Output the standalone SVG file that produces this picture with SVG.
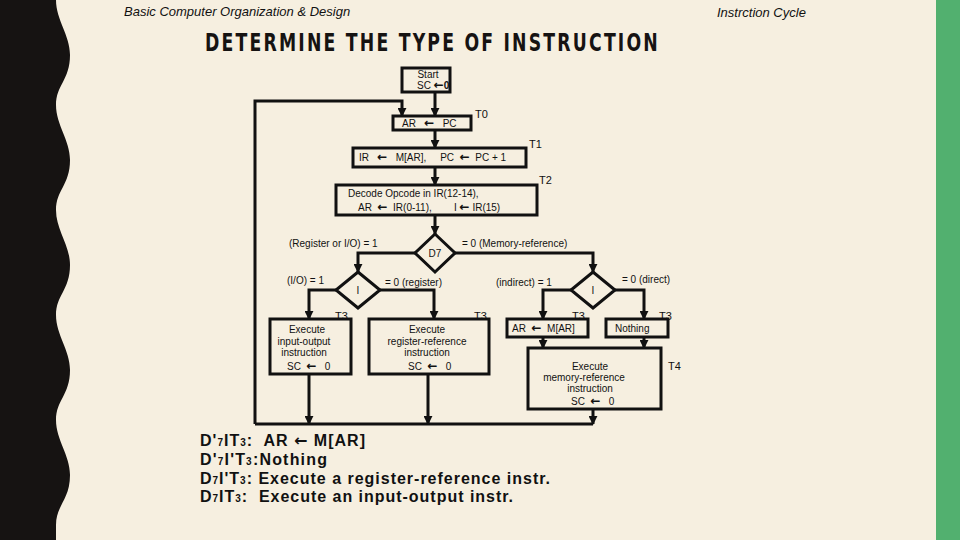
<svg xmlns="http://www.w3.org/2000/svg" width="960" height="540" viewBox="0 0 960 540" xml:space="preserve">
<style>
.b{fill:none;stroke:#111;stroke-width:3}
.c{fill:none;stroke:#111;stroke-width:3;marker-end:url(#ah)}
.t{font-family:"Liberation Sans",Arial,sans-serif;font-size:10px;fill:#111;white-space:pre}
.m{text-anchor:middle}
.a{font-family:"DejaVu Sans",sans-serif;font-weight:bold;font-size:12px}
.bt{font-family:"Liberation Sans",Arial,sans-serif;font-size:16px;font-weight:bold;fill:#111;white-space:pre}
.s{font-size:11px}
</style>
<defs>
<marker id="ah" viewBox="0 0 10 10" refX="9" refY="5" markerWidth="3" markerHeight="3" orient="auto" markerUnits="strokeWidth"><path d="M0,0L10,5L0,10z" fill="#111"/></marker>
</defs>
<rect width="960" height="540" fill="#f6efe0"/>
<path d="M0,0H56C56,20 70,35 70,55C70,80 56,85 56,105C56,125 70,140 70,160C70,185 56,190 56,210C56,230 70,245 70,265C70,290 56,295 56,315C56,335 70,350 70,370C70,395 56,400 56,420C56,440 70,455 70,475C70,500 56,505 56,525V540H0z" fill="#161312"/>
<rect x="936" y="0" width="24" height="540" fill="#52b06f"/>
<text x="124" y="16" font-family="Liberation Sans,Arial,sans-serif" font-size="13" font-style="italic" fill="#111">Basic Computer Organization &amp; Design</text>
<text x="717" y="17" font-family="Liberation Sans,Arial,sans-serif" font-size="13" font-style="italic" fill="#111">Instrction Cycle</text>
<text x="205" y="51" font-family="DejaVu Sans Condensed,DejaVu Sans,sans-serif" font-size="24" font-weight="bold" fill="#161312" textLength="566" lengthAdjust="spacing" transform="translate(205 0) scale(0.8 1) translate(-205 0)">DETERMINE THE TYPE OF INSTRUCTION</text>
<g id="connectors">
<path class="c" d="M435,92V116"/>
<path class="c" d="M255,424V101H402V116"/>
<path class="c" d="M435,130V148"/>
<path class="c" d="M435,167V185"/>
<path class="c" d="M435,215V234"/>
<path class="c" d="M415,253H358V272"/>
<path class="c" d="M455,253H593V272"/>
<path class="c" d="M336,290H309V319"/>
<path class="c" d="M380,290H434V319"/>
<path class="c" d="M571,290H543V319"/>
<path class="c" d="M615,290H644V319"/>
<path class="c" d="M543,337V348"/>
<path class="c" d="M644,337V348"/>
<path class="c" d="M309,374V424"/>
<path class="c" d="M428,374V424"/>
<path class="c" d="M593,409V424"/>
<path class="b" d="M255,424H593"/>
</g>
<g id="start"><rect class="b" x="402" y="68" width="48" height="24"/><text class="t m" x="428" y="78">Start</text><text class="t" x="417" y="89">SC <tspan class="a">←</tspan><tspan font-weight="bold">0</tspan></text></g>
<g id="t0"><rect class="b" x="393" y="116" width="78" height="14"/><text class="t" x="402" y="127">AR   <tspan class="a">←</tspan>   PC</text><text class="t s" x="475" y="118">T0</text></g>
<g id="t1"><rect class="b" x="353" y="148" width="173" height="19"/><text class="t" x="359" y="161">IR   <tspan class="a">←</tspan>   M[AR],     PC  <tspan class="a">←</tspan>  PC + 1</text><text class="t s" x="529" y="148">T1</text></g>
<g id="t2"><rect class="b" x="336" y="185" width="201" height="30"/><text class="t" x="348" y="197">Decode Opcode in IR(12-14),</text><text class="t" x="358" y="211">AR  <tspan class="a">←</tspan>  IR(0-11),        I <tspan class="a">←</tspan> IR(15)</text><text class="t s" x="539" y="184">T2</text></g>
<g id="d7"><path class="b" d="M435,234L455,253L435,272L415,253z"/><text class="t m" x="435" y="257">D7</text></g>
<text class="t" x="289" y="247">(Register or I/O) = 1</text>
<text class="t" x="462" y="247">= 0 (Memory-reference)</text>
<g id="i1"><path class="b" d="M358,272L380,290L358,308L336,290z"/><text class="t m" x="358" y="294">I</text></g>
<g id="i2"><path class="b" d="M593,272L615,290L593,308L571,290z"/><text class="t m" x="593" y="294">I</text></g>
<text class="t" x="287" y="284">(I/O) = 1</text>
<text class="t" x="385" y="286">= 0 (register)</text>
<text class="t" x="496" y="286">(indirect) = 1</text>
<text class="t" x="622" y="283">= 0 (direct)</text>
<g id="io"><rect class="b" x="270" y="319" width="81" height="55"/><text class="t m" x="307" y="333">Execute</text><text class="t m" x="304" y="345">input-output</text><text class="t m" x="304" y="356">instruction</text><text class="t" x="287" y="370">SC  <tspan class="a">←</tspan>   0</text><text class="t s" x="335" y="320">T3</text></g>
<g id="reg"><rect class="b" x="369" y="319" width="120" height="55"/><text class="t m" x="427" y="333">Execute</text><text class="t m" x="427" y="345">register-reference</text><text class="t m" x="427" y="356">instruction</text><text class="t" x="408" y="370">SC  <tspan class="a">←</tspan>   0</text><text class="t s" x="474" y="320">T3</text></g>
<g id="ind"><rect class="b" x="507" y="319" width="81" height="18"/><text class="t" x="512" y="332">AR  <tspan class="a">←</tspan>  M[AR]</text><text class="t s" x="572" y="320">T3</text></g>
<g id="nothing"><rect class="b" x="606" y="319" width="62" height="18"/><text class="t" x="615" y="332">Nothing</text><text class="t s" x="659" y="320">T3</text></g>
<g id="mem"><rect class="b" x="528" y="348" width="133" height="61"/><text class="t m" x="590" y="370">Execute</text><text class="t m" x="584" y="381">memory-reference</text><text class="t m" x="590" y="392">instruction</text><text class="t" x="571" y="405">SC  <tspan class="a">←</tspan>   0</text><text class="t s" x="668" y="370">T4</text></g>
<g id="notes">
<text class="bt" x="200" y="446" textLength="165">D'<tspan font-size="10">7</tspan>IT<tspan font-size="10">3</tspan>:  AR <tspan font-family="DejaVu Sans,sans-serif">←</tspan> M[AR]</text>
<text class="bt" x="200" y="465" textLength="127">D'<tspan font-size="10">7</tspan>I'T<tspan font-size="10">3</tspan>:Nothing</text>
<text class="bt" x="200" y="484" textLength="350">D<tspan font-size="10">7</tspan>I'T<tspan font-size="10">3</tspan>: Execute a register-reference instr.</text>
<text class="bt" x="200" y="502" textLength="313">D<tspan font-size="10">7</tspan>IT<tspan font-size="10">3</tspan>:  Execute an input-output instr.</text>
</g>
</svg>
